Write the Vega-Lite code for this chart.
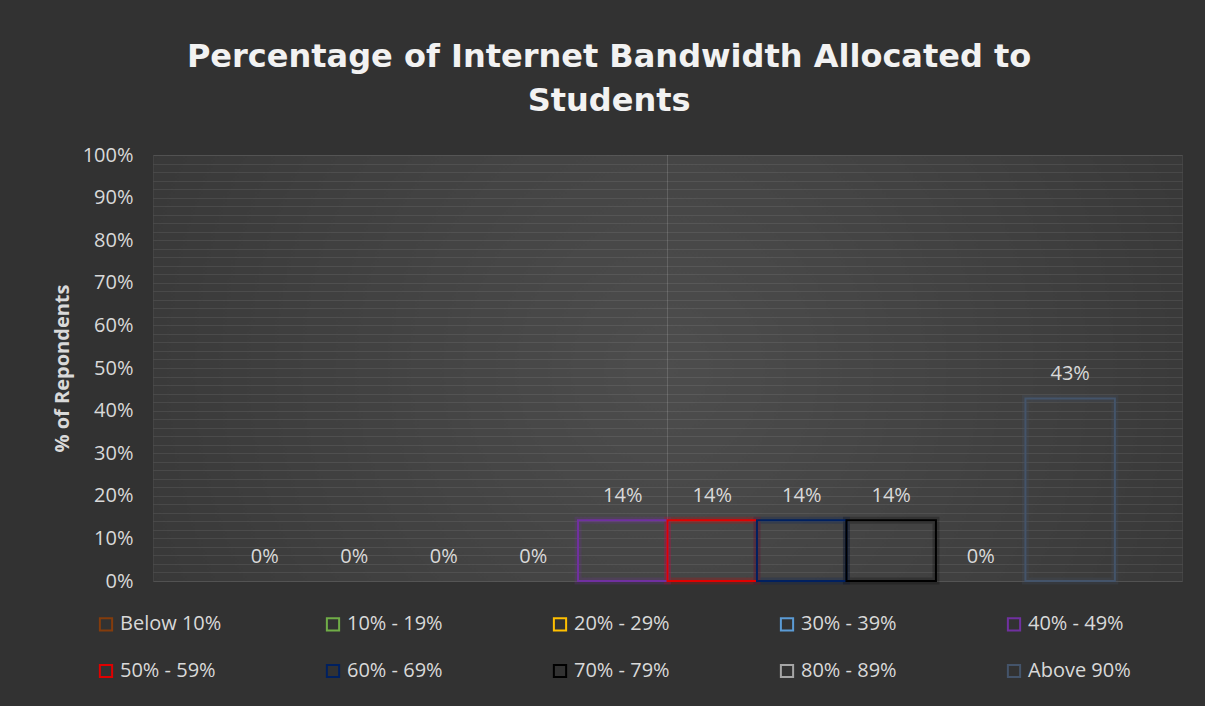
{
  "$schema": "https://vega.github.io/schema/vega-lite/v6.json",
  "width": 1029,
  "height": 426,
  "autosize": {"type": "none"},
  "padding": {"left": 153, "top": 155, "right": 23, "bottom": 125},
  "background": "#323232",
  "view": {
    "stroke": "#ffffff",
    "strokeOpacity": 0.07,
    "fill": {
      "gradient": "radial",
      "x1": 0.5, "y1": 0.5, "r1": 0,
      "x2": 0.5, "y2": 0.5, "r2": 0.6,
      "stops": [
        {"offset": 0, "color": "#4d4d4d"},
        {"offset": 1, "color": "#363636"}
      ]
    }
  },
  "config": {
    "font": "Open Sans"
  },
  "title": {
    "text": ["Percentage of Internet Bandwidth Allocated to", "Students"],
    "font": "DejaVu Sans",
    "fontWeight": "bold",
    "fontSize": 32,
    "color": "#F2F2F2",
    "lineHeight": 44,
    "anchor": "middle",
    "frame": "bounds",
    "dx": -8,
    "offset": 27
  },
  "data": {
    "values": [
      {"category": "Below 10%", "value": 0},
      {"category": "10% - 19%", "value": 0},
      {"category": "20% - 29%", "value": 0},
      {"category": "30% - 39%", "value": 0},
      {"category": "40% - 49%", "value": 0.142857},
      {"category": "50% - 59%", "value": 0.142857},
      {"category": "60% - 69%", "value": 0.142857},
      {"category": "70% - 79%", "value": 0.142857},
      {"category": "80% - 89%", "value": 0},
      {"category": "Above 90%", "value": 0.428571}
    ]
  },
  "encoding": {
    "x": {
      "field": "category",
      "type": "nominal",
      "sort": null,
      "scale": {
        "domain": ["Below 10%", "10% - 19%", "20% - 29%", "30% - 39%", "40% - 49%", "50% - 59%", "60% - 69%", "70% - 79%", "80% - 89%", "Above 90%"],
        "paddingInner": 0,
        "paddingOuter": 0.75
      },
      "axis": null
    },
    "y": {
      "field": "value",
      "type": "quantitative",
      "scale": {"domain": [0, 1], "nice": false},
      "axis": {
        "title": "% of Repondents",
        "titleFont": "Open Sans",
        "titleFontSize": 20,
        "titleFontWeight": "bold",
        "titleColor": "#D9D9D9",
        "titlePadding": 10,
        "values": [0,0.02,0.04,0.06,0.08,0.1,0.12,0.14,0.16,0.18,0.2,0.22,0.24,0.26,0.28,0.3,0.32,0.34,0.36,0.38,0.4,0.42,0.44,0.46,0.48,0.5,0.52,0.54,0.56,0.58,0.6,0.62,0.64,0.66,0.68,0.7,0.72,0.74,0.76,0.78,0.8,0.82,0.84,0.86,0.88,0.9,0.92,0.94,0.96,0.98,1],
        "labelExpr": "round(datum.value*100) % 10 == 0 ? format(datum.value, '.0%') : ''",
        "labelOverlap": false,
        "labelFontSize": 20,
        "labelColor": "#D9D9D9",
        "labelPadding": 20,
        "tickSize": 0,
        "domain": false,
        "grid": true,
        "gridColor": "#ffffff",
        "gridOpacity": 0.08,
        "gridWidth": 1
      }
    }
  },
  "layer": [
    {
      "transform": [{"filter": "datum.category == '50% - 59%'"}],
      "mark": {"type": "rule", "color": "#ffffff", "opacity": 0.14, "strokeWidth": 1},
      "encoding": {
        "x": {"field": "category", "type": "nominal", "bandPosition": 0},
        "y": {"datum": 0, "type": "quantitative"},
        "y2": {"datum": 1}
      }
    },
    {
      "transform": [{"filter": "datum.value > 0"}],
      "mark": {"type": "bar", "filled": false, "strokeWidth": 7, "strokeOpacity": 0.22},
      "encoding": {
        "color": {
          "field": "category",
          "type": "nominal",
          "scale": {
            "domain": ["Below 10%", "10% - 19%", "20% - 29%", "30% - 39%", "40% - 49%", "50% - 59%", "60% - 69%", "70% - 79%", "80% - 89%", "Above 90%"],
            "range": ["#843C0C", "#70AD47", "#FFC000", "#5B9BD5", "#7030A0", "#E00000", "#002060", "#000000", "#A5A5A5", "#44546A"]
          },
          "legend": {
            "title": null,
            "orient": "none",
            "legendX": -57,
            "legendY": 459,
            "direction": "horizontal",
            "columns": 5,
            "gridAlign": "all",
            "columnPadding": 99,
            "rowPadding": 25,
            "padding": 0,
            "symbolType": "square",
            "symbolSize": 150,
            "symbolStrokeWidth": 2,
            "symbolFillColor": "transparent",
            "symbolOpacity": 1,
            "labelFont": "Open Sans",
            "labelFontSize": 20,
            "labelColor": "#D9D9D9",
            "labelOffset": 4,
            "labelLimit": 200
          }
        }
      }
    },
    {
      "transform": [{"filter": "datum.value > 0"}],
      "mark": {"type": "bar", "filled": false, "strokeWidth": 2},
      "encoding": {
        "color": {
          "field": "category",
          "type": "nominal"
        }
      }
    },
    {
      "mark": {"type": "text", "dy": -24, "baseline": "middle", "fontSize": 20, "color": "#D9D9D9", "font": "Open Sans"},
      "encoding": {
        "text": {"field": "value", "type": "quantitative", "format": ".0%"}
      }
    }
  ]
}
